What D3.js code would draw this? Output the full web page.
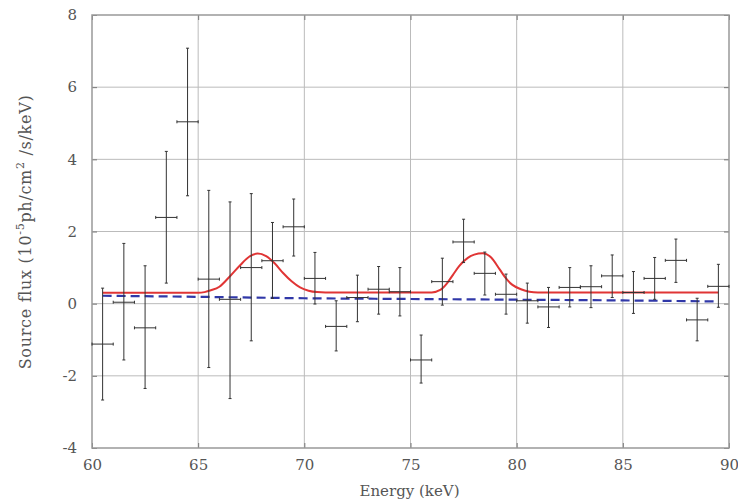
<!DOCTYPE html>
<html><head><meta charset="utf-8">
<script src="https://cdn.jsdelivr.net/npm/d3@7"></script>
<style>body{margin:0;background:#fff}svg{display:block}</style>
</head><body><svg id="c" width="738" height="504"></svg>
<script>
// Data: bin centres (keV), flux, errors
const energy = [60.5,61.5,62.5,63.5,64.5,65.5,66.5,67.5,68.5,69.5,70.5,71.5,72.5,73.5,74.5,75.5,76.5,77.5,78.5,79.5,80.5,81.5,82.5,83.5,84.5,85.5,86.5,87.5,88.5,89.5];
const flux   = [-1.12,0.04,-0.67,2.39,5.04,0.68,0.12,1.0,1.19,2.13,0.70,-0.63,0.17,0.40,0.33,-1.56,0.61,1.71,0.84,0.26,0.08,-0.09,0.45,0.47,0.77,0.31,0.70,1.20,-0.45,0.48];
const fluxHi = [0.43,1.67,1.05,4.22,7.08,3.14,2.82,3.05,2.25,2.90,1.42,0.08,0.79,1.03,1.00,-0.87,1.26,2.34,1.43,0.82,0.57,0.45,1.00,1.05,1.35,0.89,1.28,1.79,0.15,1.09];
const fluxLo = [-2.67,-1.56,-2.35,0.57,2.99,-1.77,-2.63,-1.03,0.15,1.32,-0.01,-1.31,-0.50,-0.29,-0.34,-2.20,-0.04,1.14,0.24,-0.29,-0.54,-0.66,-0.09,-0.11,0.17,-0.27,0.12,0.59,-1.03,-0.10];
const binHalf = 0.5;
// Model curve (red)
const modelE = [60.5,65.0,65.3,65.6,66.0,66.5,67.0,67.4,67.8,68.2,68.6,69.0,69.4,69.8,70.2,70.6,71.0,76.0,76.4,76.7,77.0,77.3,77.7,78.0,78.4,78.8,79.2,79.5,79.8,80.2,80.6,81.0,89.5];
const modelF = [0.30,0.30,0.32,0.37,0.47,0.76,1.08,1.30,1.39,1.32,1.12,0.85,0.62,0.45,0.36,0.32,0.31,0.31,0.38,0.55,0.80,1.05,1.27,1.36,1.40,1.28,0.95,0.70,0.52,0.40,0.33,0.31,0.31];
// Continuum (blue dashed)
const contE = [60.5,65,70,75,80,85,89.5];
const contF = [0.22,0.19,0.15,0.13,0.11,0.09,0.06];
const xTicks = [60,65,70,75,80,85,90];
const yTicks = [-4,-2,0,2,4,6,8];

const svg = d3.select('#c');
const x = d3.scaleLinear().domain([60,90]).range([92,729]);
const y = d3.scaleLinear().domain([-4,8]).range([448,15]);
const font = "'DejaVu Serif', serif";
const tcol = '#555';

// grid
svg.append('g').selectAll('line').data(xTicks.slice(1,-1)).join('line')
  .attr('x1',d=>x(d)).attr('x2',d=>x(d)).attr('y1',y(8)).attr('y2',y(-4))
  .attr('stroke','#bbb').attr('stroke-width',1);
svg.append('g').selectAll('line').data(yTicks.slice(1,-1)).join('line')
  .attr('y1',d=>y(d)).attr('y2',d=>y(d)).attr('x1',x(60)).attr('x2',x(90))
  .attr('stroke','#bbb').attr('stroke-width',1);

// axes
const fmt = d=>String(d);
const xa = svg.append('g').attr('transform',`translate(0,${y(-4)})`)
  .call(d3.axisBottom(x).tickValues(xTicks).tickSize(-5).tickPadding(11).tickFormat(fmt));
const ya = svg.append('g').attr('transform',`translate(${x(60)},0)`)
  .call(d3.axisLeft(y).tickValues(yTicks).tickSize(-5).tickPadding(15).tickFormat(fmt));
const xt = svg.append('g').attr('transform',`translate(0,${y(8)})`)
  .call(d3.axisTop(x).tickValues(xTicks).tickSize(-5).tickFormat(''));
const yr = svg.append('g').attr('transform',`translate(${x(90)},0)`)
  .call(d3.axisRight(y).tickValues(yTicks).tickSize(-5).tickFormat(''));
[xa,ya,xt,yr].forEach(a=>{
  a.select('.domain').remove();
  a.selectAll('.tick line').attr('stroke','#777');
  a.selectAll('text').attr('fill',tcol).style('font-family',font).style('font-size','15px');
});
// frame
svg.append('rect').attr('x',x(60)).attr('y',y(8)).attr('width',x(90)-x(60)).attr('height',y(-4)-y(8))
  .attr('fill','none').attr('stroke','#999').attr('stroke-width',1.5);

// model lines
const line = d3.line().x(d=>x(d[0])).y(d=>y(d[1])).curve(d3.curveMonotoneX);
svg.append('path').attr('d',line(contE.map((e,i)=>[e,contF[i]])))
  .attr('fill','none').attr('stroke','#3038a8').attr('stroke-width',2.2).attr('stroke-dasharray','9,5');
svg.append('path').attr('d',line(modelE.map((e,i)=>[e,modelF[i]])))
  .attr('fill','none').attr('stroke','#e03535').attr('stroke-width',2);

// error bars
const g = svg.append('g').attr('stroke','#333').attr('stroke-width',1);
energy.forEach((e,i)=>{
  const cx=x(e), cy=y(flux[i]);
  g.append('line').attr('x1',cx).attr('x2',cx).attr('y1',y(fluxHi[i])).attr('y2',y(fluxLo[i]));
  g.append('line').attr('x1',x(e-binHalf)).attr('x2',x(e+binHalf)).attr('y1',cy).attr('y2',cy);
  [fluxHi[i],fluxLo[i]].forEach(v=>g.append('line').attr('x1',cx-1.5).attr('x2',cx+1.5).attr('y1',y(v)).attr('y2',y(v)));
  [e-binHalf,e+binHalf].forEach(v=>g.append('line').attr('x1',x(v)).attr('x2',x(v)).attr('y1',cy-1.5).attr('y2',cy+1.5));
});

// titles
svg.append('text').attr('x',(x(60)+x(90))/2 - 1).attr('y',496).attr('text-anchor','middle')
  .attr('fill',tcol).style('font-family',font).style('font-size','15px').text('Energy (keV)');
const yt = svg.append('text').attr('transform','translate(31,232) rotate(-90)').attr('text-anchor','middle')
  .attr('fill',tcol).style('font-family',font).style('font-size','16px').style('letter-spacing','0.7px');
yt.append('tspan').text('Source flux (10');
yt.append('tspan').attr('dy',-7).style('font-size','11px').text('-5');
yt.append('tspan').attr('dy',7).text('ph/cm');
yt.append('tspan').attr('dy',-7).style('font-size','11px').text('2');
yt.append('tspan').attr('dy',7).text(' /s/keV)');
</script></body></html>
